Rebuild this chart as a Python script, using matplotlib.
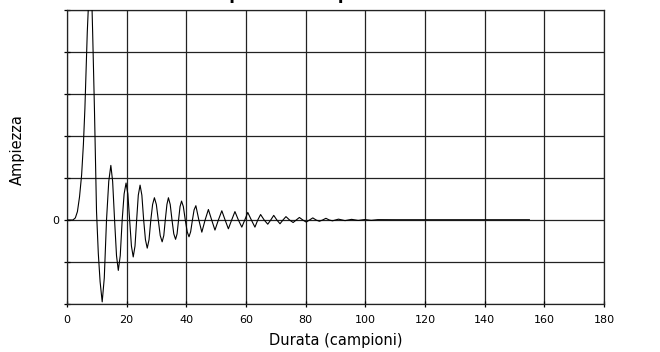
#!/usr/bin/env python3
# -*- coding: utf-8 -*-

"""
Risposta all'impulso: oscillazione smorzata in funzione dei campioni.
"""

import numpy as np
import matplotlib
matplotlib.use("Agg")
import matplotlib.pyplot as plt

# Dati (campione, ampiezza)
campioni = [0, 2.0, 2.8, 3.5, 4.2, 4.9, 5.5, 6.0, 6.8, 7.3, 7.8, 8.3, 8.6, 9.2, 9.9,
            10.5, 11.1, 11.8, 12.5, 13.25, 14.0, 14.7,
            15.3, 15.95, 16.6, 17.2, 17.85, 18.5, 19.15, 19.8,
            20.4, 21.0, 21.6, 22.2, 22.8, 23.35, 23.9, 24.5,
            25.1, 25.7, 26.3, 26.9, 27.5, 28.1, 28.7, 29.3,
            29.95, 30.6, 31.25, 31.9, 32.45, 32.95, 33.5, 34.0,
            34.6, 35.2, 35.8, 36.4, 36.9, 37.4, 37.9, 38.4,
            39.0, 39.65, 40.3, 40.9, 41.45, 42.05, 42.6, 43.2,
            44.2, 45.2, 46.3, 47.4, 48.5, 49.6, 50.75, 51.9,
            53.0, 54.1, 55.2, 56.3, 57.45, 58.6, 59.6, 60.6,
            61.8, 63.0, 63.95, 64.9, 66.1, 67.3, 68.3, 69.3,
            70.35, 71.4, 72.4, 73.4, 74.6, 75.8, 76.85, 77.9,
            79.05, 80.2, 81.3, 82.4, 83.5, 84.6, 85.7, 86.8,
            87.9, 89.0, 90.0, 91.0, 93.2, 95.4, 97.6, 99.8, 102.0, 104.2,
            110.0, 130.0, 155.0]
ampiezza = [0, 0.0, 0.05, 0.2, 0.55, 1.07, 1.8, 2.65, 4.47, 5.3, 5.6, 5.3, 4.47, 2.65, 0.2,
            -0.8, -1.47, -1.95, -1.38, 0, 0.92, 1.30,
            0.92, 0, -0.85, -1.20, -0.85, 0, 0.62, 0.88,
            0.62, 0, -0.62, -0.88, -0.62, 0, 0.59, 0.83,
            0.59, 0, -0.47, -0.67, -0.47, 0, 0.37, 0.53,
            0.37, 0, -0.37, -0.52, -0.37, 0, 0.37, 0.53,
            0.37, 0, -0.33, -0.46, -0.33, 0, 0.32, 0.45,
            0.32, 0, -0.28, -0.40, -0.28, 0, 0.24, 0.34,
            0, -0.29, 0, 0.25, 0, -0.24, 0, 0.22,
            0, -0.21, 0, 0.20, 0, -0.17, 0, 0.18,
            0, -0.17, 0, 0.13, 0, -0.10, 0, 0.11,
            0, -0.09, 0, 0.08, 0, -0.06, 0, 0.06,
            0, -0.05, 0, 0.05, 0, -0.03, 0, 0.04,
            0, -0.02, 0, 0.02, -0.015, 0.015, -0.01, 0.01, -0.008, 0.008,
            0.006, 0.006, 0.006]

xticks = np.arange(0, 181, 20)
yticks = np.arange(-2, 6, 1)
ytick_labels = ["" if v != 0 else "0" for v in yticks]

fig = plt.figure(figsize=(6.6, 3.52), dpi=100)
ax = fig.add_axes([0.1015, 0.1364, 0.8136, 0.8352])

ax.plot(campioni, ampiezza, color="black", lw=0.8, zorder=3)

ax.set_xlim(0, 180)
ax.set_ylim(-2, 5)
ax.set_xticks(xticks)
ax.set_yticks(yticks)
ax.set_yticklabels(ytick_labels)
ax.grid(True, color="#222222", lw=0.9)
ax.set_axisbelow(True)
ax.tick_params(direction="inout", length=4, width=0.9, labelsize=8, colors="black")
ax.tick_params(axis="x", pad=6)
for s in ax.spines.values():
    s.set_color("#222222")
    s.set_linewidth(0.9)

ax.set_xlabel("Durata (campioni)", fontsize=10.5)
ax.set_ylabel("Ampiezza", fontsize=10.5)
ax.xaxis.set_label_coords(0.5, -0.1)
ax.yaxis.set_label_coords(-0.078, 0.524)

# titolo tagliato in alto come nell'originale
fig.text(0.446, 1.004, "Risposta all'impulso", ha="center", va="baseline",
         fontsize=12, fontweight="bold")

fig.savefig("out.png", dpi=100)
